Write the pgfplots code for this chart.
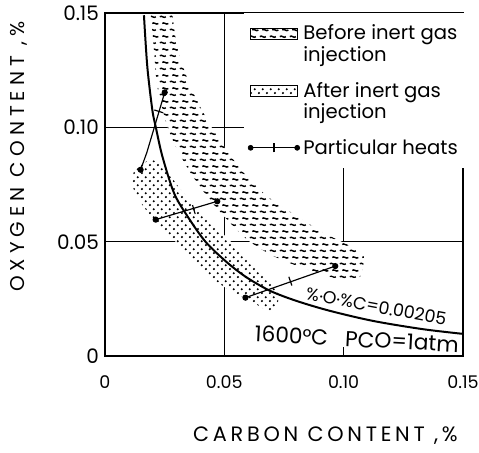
\documentclass[border=0pt]{standalone}
\usepackage{pgfplots}
\pgfplotsset{compat=1.18}
\usepackage{fontspec}
\setmainfont{Poppins}
\usetikzlibrary{patterns}

% short wavy strokes for the band before injection
\pgfdeclarepatternformonly{waves}{\pgfpointorigin}{\pgfqpoint{6pt}{8pt}}{\pgfqpoint{6pt}{8pt}}{
  \pgfsetlinewidth{0.9pt}
  \pgfpathmoveto{\pgfqpoint{0.5pt}{2pt}}
  \pgfpathcurveto{\pgfqpoint{1.5pt}{3.3pt}}{\pgfqpoint{2.9pt}{0.7pt}}{\pgfqpoint{4.1pt}{2pt}}
  \pgfpathmoveto{\pgfqpoint{2pt}{6pt}}
  \pgfpathcurveto{\pgfqpoint{3pt}{7.3pt}}{\pgfqpoint{4.4pt}{4.7pt}}{\pgfqpoint{5.6pt}{6pt}}
  \pgfusepath{stroke}
}
% staggered dots for the band after injection
\pgfdeclarepatternformonly{sdots}{\pgfpointorigin}{\pgfqpoint{5pt}{5pt}}{\pgfqpoint{5pt}{5pt}}{
  \pgfpathcircle{\pgfqpoint{1.25pt}{1.25pt}}{0.75pt}
  \pgfpathcircle{\pgfqpoint{3.75pt}{3.75pt}}{0.75pt}
  \pgfusepath{fill}
}

\tikzset{
  heat/.style={black, line width=0.7pt, mark=*, mark size=1.5pt},
  heattick/.style={black, only marks, mark=|, mark size=2.8pt, mark options={line width=0.7pt, rotate=#1}},
}

\begin{document}
\begin{tikzpicture}
\begin{axis}[
  scale only axis,
  width=215.4pt, height=206.4pt,
  xmin=0, xmax=0.15, ymin=0, ymax=0.15,
  xtick={0,0.05,0.10,0.15}, xticklabels={0,0.05,0.10,0.15},
  ytick={0,0.05,0.10,0.15}, yticklabels={0,0.05,0.10,0.15},
  major tick length=0pt,
  axis line style={line width=1pt},
  xticklabel style={font=\fontsize{10.5}{12}\selectfont, yshift=-8pt},
  yticklabel style={font=\fontsize{12}{13}\selectfont},
  xlabel={\addfontfeature{LetterSpace=18}CARBON CONTENT ,\%},
  ylabel={\addfontfeature{LetterSpace=25}OXYGEN CONTENT ,\%},
  xlabel style={font=\fontsize{12.5}{14}\selectfont, at={(axis description cs:0.616,-0.2326)}, anchor=center},
  ylabel style={font=\fontsize{12}{14}\selectfont, at={(axis description cs:-0.2396,0.581)}, anchor=center},
  legend style={at={(rel axis cs:0.389,1)}, anchor=north west, fill=white, draw=none,
    font=\fontsize{11.8}{12.8}\selectfont, cells={anchor=west, align=left},
    row sep=7pt, inner xsep=2pt, inner ysep=5pt},
]
% partial grid lines
\draw[line width=0.8pt] (axis cs:0.05,0) -- (axis cs:0.05,0.15);
\draw[line width=0.8pt] (axis cs:0.10,0.05) -- (axis cs:0.10,0.15);
\draw[line width=0.8pt] (axis cs:0.10,0) -- (axis cs:0.10,0.004);
\draw[line width=0.8pt] (axis cs:0,0.10) -- (axis cs:0.15,0.10);
\draw[line width=0.8pt] (axis cs:0,0.05) -- (axis cs:0.15,0.05);

% after inert gas injection
\addplot[draw=none, fill=white, postaction={pattern=sdots}, smooth, tension=0.5, forget plot] coordinates {
  (0.0121,0.0807) (0.0192,0.0859) (0.0255,0.0815) (0.0318,0.0728) (0.0401,0.0632)
  (0.0485,0.0545) (0.0568,0.0458) (0.0652,0.0371) (0.0715,0.0292) (0.0727,0.0249)
  (0.0702,0.0192) (0.0598,0.0249) (0.0497,0.0305) (0.0389,0.0392) (0.0288,0.0510)
  (0.0205,0.0597) (0.0142,0.0685) (0.0113,0.0750)
};
% before inert gas injection
\addplot[draw=none, fill=white, postaction={pattern=waves}, smooth, tension=0.5, forget plot] coordinates {
  (0.0282,0.1500) (0.0306,0.1339) (0.0359,0.1178) (0.0429,0.1033) (0.0499,0.0917)
  (0.0582,0.0801) (0.0680,0.0699) (0.0805,0.0612) (0.0917,0.0539) (0.1028,0.0481)
  (0.1084,0.0437) (0.1070,0.0350) (0.1056,0.0343) (0.0986,0.0336) (0.0847,0.0379)
  (0.0708,0.0437) (0.0596,0.0510) (0.0499,0.0612) (0.0429,0.0699) (0.0359,0.0801)
  (0.0304,0.0903) (0.0262,0.1004) (0.0220,0.1178) (0.0206,0.1339) (0.0192,0.1500)
};
% equilibrium curve
\addplot[black, line width=1.2pt, smooth, forget plot] coordinates {
  (0.0164,0.1490) (0.0178,0.1266) (0.0199,0.1077) (0.0213,0.1004) (0.0241,0.0874)
  (0.0290,0.0713) (0.0346,0.0612) (0.0422,0.0500) (0.0513,0.0409) (0.0596,0.0343)
  (0.0694,0.0285) (0.0805,0.0241) (0.0944,0.0198) (0.1125,0.0154) (0.1334,0.0118)
  (0.1516,0.0096)
};
% particular heats
\addplot[heat, mark indices={1,3}, forget plot] coordinates {(0.0150,0.0815) (0.0176,0.0890) (0.0251,0.1153)};
\addplot[heat, forget plot] coordinates {(0.0213,0.0597) (0.0471,0.0677)};
\addplot[heat, forget plot] coordinates {(0.0589,0.0256) (0.0965,0.0394)};
\addplot[heattick=72.7, forget plot] coordinates {(0.0226,0.1070)};
\addplot[heattick=16.5, forget plot] coordinates {(0.0373,0.0641)};
\addplot[heattick=19.3, forget plot] coordinates {(0.0777,0.0328)};

\node[rotate=-10.5, font=\fontsize{10.5}{12}\selectfont] at (axis cs:0.1137,0.0218) {\%·O·\%C=0.00205};
\node[rotate=-3, font=\fontsize{13}{14}\selectfont] at (axis cs:0.1055,0.0075) {1600°C\hspace{0.8em}PCO=1atm};

\addlegendimage{legend image code/.code={
  \path (0pt,-6.4pt) (0pt,6.4pt);
  \path[pattern=waves] (0pt,3pt) rectangle (28pt,9.5pt);}}
\addlegendentry{Before inert gas\\injection}
\addlegendimage{legend image code/.code={
  \path (0pt,-6.4pt) (0pt,6.4pt);
  \path[pattern=sdots] (0pt,3pt) rectangle (28pt,9.5pt);}}
\addlegendentry{After inert gas\\injection}
\addlegendimage{legend image code/.code={
  \draw[line width=0.7pt] (0pt,0pt) -- (28pt,0pt);
  \fill (0pt,0pt) circle (1.5pt);
  \fill (28pt,0pt) circle (1.5pt);
  \draw[line width=0.7pt] (14pt,-2.8pt) -- (14pt,2.8pt);}}
\addlegendentry{Particular heats}

\draw[line width=1pt] (rel axis cs:0,0) rectangle (rel axis cs:1,1);
\end{axis}
\pgfresetboundingbox
\path[use as bounding box] (-63pt,-57.6pt) rectangle (225pt,214.2pt);
\end{tikzpicture}
\end{document}
